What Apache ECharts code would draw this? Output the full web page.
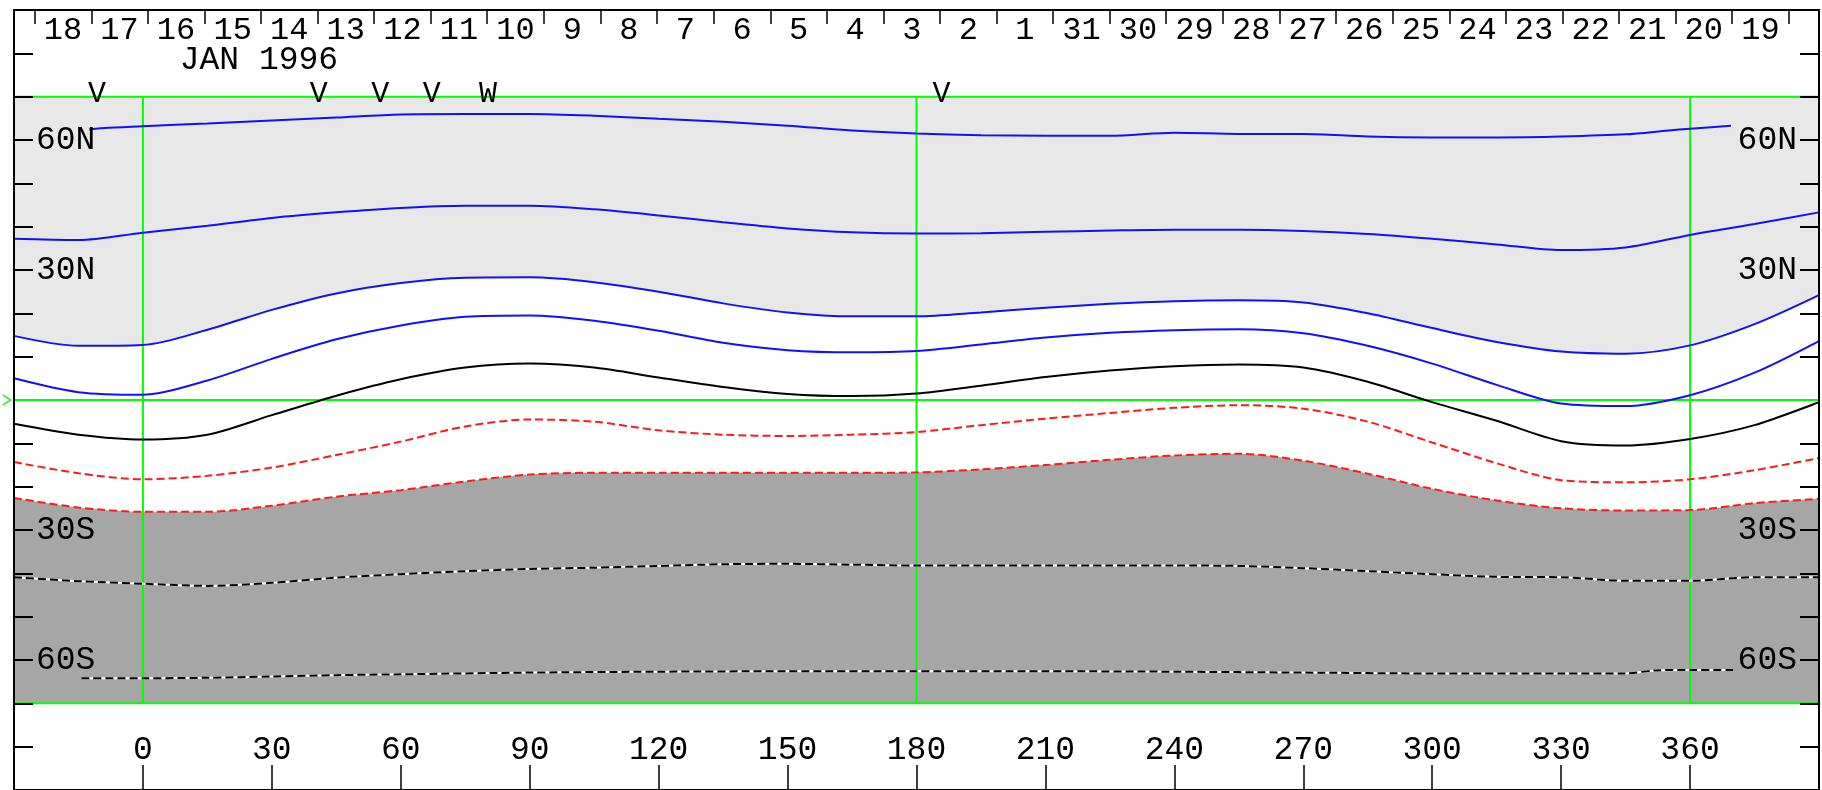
<!DOCTYPE html>
<html><head><meta charset="utf-8">
<script src="https://cdn.jsdelivr.net/npm/echarts@6/dist/echarts.min.js"></script>
<style>html,body{margin:0;padding:0;background:#fff}#c{width:1822px;height:790px}</style>
</head><body><div id="c"></div>
<script>
// Carrington longitude grid (deg) shared by the main contours
const lon = [-30,-15,0,15,30,45,60,75,90,105,120,135,150,165,180,195,210,225,240,255,270,285,300,315,330,345,360,375,390];
const blue2 = [37.2,36.9,38.6,40.2,42.0,43.3,44.3,44.8,44.8,44.0,42.6,41.0,39.6,38.7,38.4,38.5,38.8,39.1,39.3,39.3,39.0,38.3,37.2,35.9,34.6,35.2,38.1,40.6,43.3];
const blue3 = [14.8,12.5,12.7,16.2,20.8,24.6,27.0,28.2,28.3,27.2,25.0,22.3,20.2,19.3,19.3,20.2,21.3,22.2,22.8,23.0,22.5,20.0,16.6,13.4,11.2,10.7,12.6,17.5,24.2];
const blue4 = [5.0,1.8,1.2,4.5,9.5,14.0,17.2,19.2,19.5,18.3,16.0,13.2,11.5,11.0,11.3,12.8,14.4,15.5,16.1,16.3,15.4,12.5,8.4,3.5,-0.8,-1.4,1.1,6.3,13.6];
const neutral = [-5.5,-8.0,-9.1,-8.0,-3.5,1.0,4.8,7.5,8.4,7.5,5.2,3.0,1.4,0.9,1.5,3.3,5.3,6.8,7.8,8.2,7.5,4.2,-0.5,-4.8,-9.5,-10.5,-9.0,-5.8,-0.5];
const redUpper = [-14.3,-16.9,-18.3,-17.5,-15.6,-12.7,-9.6,-6.1,-4.5,-5.0,-7.0,-8.0,-8.3,-8.0,-7.4,-5.8,-4.3,-3.0,-1.8,-1.2,-2.0,-5.0,-9.8,-14.6,-18.5,-19.0,-18.3,-16.2,-13.4];
const redLower = [-22.6,-24.8,-25.8,-25.8,-24.4,-22.3,-20.8,-18.8,-17.2,-16.8,-16.8,-16.8,-16.8,-16.8,-16.7,-16.0,-15.0,-13.8,-12.8,-12.4,-14.0,-17.0,-20.5,-23.2,-25.0,-25.5,-25.4,-23.8,-22.8];
const dashUpper = [-40.9,-41.8,-42.4,-42.9,-42.2,-41.0,-40.2,-39.5,-39.0,-38.7,-38.3,-37.9,-37.8,-38.0,-38.2,-38.2,-38.2,-38.2,-38.2,-38.3,-38.8,-39.5,-40.2,-40.8,-40.9,-41.7,-41.7,-40.9,-40.9];
// partial contours
const blue1Lon = [-12.5,-8,0,15,30,45,60,75,90,105,120,135,150,165,180,195,210,225,240,255,270,285,300,315,330,345,355,360,369.5];
const blue1Lat = [62.4,62.8,63.2,63.8,64.5,65.2,65.9,66.0,66.0,65.6,64.9,64.2,63.3,62.2,61.5,61.1,61.0,61.0,61.7,61.4,61.4,60.8,60.6,60.6,60.8,61.3,62.2,62.6,63.3];
const dashLowLon = [-14.3,0,15,30,45,60,90,120,150,180,210,240,270,300,330,345,352,360,370];
const dashLowLat = [-64.2,-64.2,-64.1,-63.8,-63.5,-63.3,-62.9,-62.7,-62.6,-62.6,-62.6,-62.7,-62.9,-63.1,-63.1,-63.1,-62.4,-62.3,-62.3];
// reference lines
const greenLon = [0,180,360];
const greenLat = [70,0,-70];
// axes
const lonTicks = [-30,0,30,60,90,120,150,180,210,240,270,300,330,360,390];
const lonLabels = ['','0','30','60','90','120','150','180','210','240','270','300','330','360',''];
const latTicks = [-90,-80,-70,-60,-50,-40,-30,-20,-10,10,20,30,40,50,60,70,80,90];
const latLabelVals = [60,30,-30,-60];
const latLabels = ['60N','30N','30S','60S'];
const dayTicks = [-25.2,-12.0,1.1,14.3,27.5,40.6,53.8,67.0,80.1,93.3,106.5,119.6,132.8,146.0,159.1,172.3,185.5,198.6,211.8,225.0,238.1,251.3,264.5,277.6,290.8,304.0,317.1,330.3,343.5,356.6,369.8,383.0];
const dayLabels = ['18','17','16','15','14','13','12','11','10','9','8','7','6','5','4','3','2','1','31','30','29','28','27','26','25','24','23','22','21','20','19'];
const monthLabel = 'JAN 1996';
const monthPos = [27, 78.4];
const markLon = [-10.7, 40.9, 55.2, 67.2, 80.3, 185.8];
const markText = ['V','V','V','V','W','V'];

const FONT = 'Liberation Mono';
const dayMid = dayLabels.map((_, i) => +(((dayTicks[i] + dayTicks[i+1]) / 2).toFixed(2)));
const pair = (xs, ys) => xs.map((x, i) => [x, ys[i]]);
const SM = 0.3;
function lineS(xs, ys, color, width, type, z) {
  return {type:'line', data:pair(xs, ys), smooth:SM, symbol:'none', silent:true,
    lineStyle:{color:color, width:width, type:type || 'solid'}, z:z || 4, animation:false};
}
function areaS(xs, ys, color, origin, z) {
  return {type:'line', data:pair(xs, ys), smooth:SM, symbol:'none', silent:true, animation:false,
    lineStyle:{width:0, opacity:0}, areaStyle:{color:color, opacity:1, origin:origin}, z:z};
}
const series = [];
// light gray: from blue3 contour up to 70N ; dark gray: from lower red contour down to 70S
series.push(areaS(lon, blue3, '#e8e8e8', 'end', 1));
series.push(areaS(lon, redLower, '#a6a6a6', 'start', 1));
// white outside the +-70 band
series.push(areaS([-30, 390], [greenLat[0], greenLat[0]], '#ffffff', 'end', 2));
series.push(areaS([-30, 390], [greenLat[2], greenLat[2]], '#ffffff', 'start', 2));
// green reference lines
greenLon.forEach(x => series.push(lineS([x, x], [greenLat[2], greenLat[0]], '#00ff00', 2, 'solid', 3)));
greenLat.forEach(y => series.push(lineS([-30, 390], [y, y], '#00ff00', 2, 'solid', 3)));
// contours
series.push(lineS(blue1Lon, blue1Lat, '#1010ff', 2));
series.push(lineS(lon, blue2, '#1010ff', 2));
series.push(lineS(lon, blue3, '#1010ff', 2));
series.push(lineS(lon, blue4, '#1010ff', 2));
series.push(lineS(lon, neutral, '#000000', 2));
series.push(lineS(lon, redUpper, '#ff1a1a', 2, [8, 4]));
series.push(lineS(lon, redLower, '#ff1a1a', 2, [8, 4]));
series.push(lineS(lon, dashUpper, '#ffffff', 2));
series.push(lineS(lon, dashUpper, '#000000', 2, [8, 4], 5));
series.push(lineS(dashLowLon, dashLowLat, '#ffffff', 2));
series.push(lineS(dashLowLon, dashLowLat, '#000000', 2, [8, 4], 5));
// texts
series.push({type:'scatter', silent:true, symbolSize:0, z:6, animation:false,
  itemStyle:{opacity:1},
  data:[{value:[monthPos[0], monthPos[1]], name:monthLabel, label:{fontSize:33}}]
    .concat(markLon.map((x, i) => ({value:[x, 70.7], name:markText[i], label:{fontSize:30}}))),
  label:{show:true, position:'inside', formatter:p => p.name, color:'#000', opacity:1, fontFamily:FONT}});
// green equator marker
series.push({type:'scatter', silent:true, clip:false, z:6, animation:false, data:[[-31.7, 0]],
  symbol:'path://M0,0L10,6L0,12', symbolSize:[8, 10],
  itemStyle:{color:'none', borderColor:'#22ee22', borderWidth:1.3, opacity:1}});

const latFmt = v => { const i = latLabelVals.indexOf(v); return i >= 0 ? latLabels[i] : ''; };
const axisTxt = {fontFamily:FONT, fontSize:33, color:'#000'};
const option = {
  animation:false,
  backgroundColor:'#fff',
  grid:{left:14, top:10, width:1818, height:783, containLabel:false},
  xAxis:[
    {type:'value', position:'bottom', min:-30, max:390, interval:30, z:10,
      axisLine:{show:true, onZero:false, lineStyle:{color:'#000', width:2}},
      axisTick:{show:true, inside:true, length:25, lineStyle:{color:'#000', width:1.5}},
      axisLabel:Object.assign({show:true, inside:true, margin:23,
        formatter:v => { const i = lonTicks.indexOf(v); return i >= 0 ? lonLabels[i] : ''; }}, axisTxt),
      splitLine:{show:false}},
    {type:'value', position:'top', min:-30, max:390, z:10,
      axisLine:{show:true, onZero:false, lineStyle:{color:'#000', width:2}},
      axisTick:{show:true, inside:true, length:14, customValues:dayTicks, lineStyle:{color:'#000', width:1.5}},
      axisLabel:Object.assign({show:true, inside:true, margin:5, customValues:dayMid,
        formatter:v => { let b = -1, bd = 1e9; dayMid.forEach((m, i) => { const d = Math.abs(m - v); if (d < bd) { bd = d; b = i; } }); return bd < 1 ? dayLabels[b] : ''; }},
        axisTxt, {fontSize:32}),
      splitLine:{show:false}}
  ],
  yAxis:[
    {type:'value', position:'left', min:-90, max:90, z:10,
      axisLine:{show:true, onZero:false, lineStyle:{color:'#000', width:2}},
      axisTick:{show:true, inside:true, length:19, customValues:latTicks, lineStyle:{color:'#000', width:2}},
      axisLabel:Object.assign({show:true, inside:true, margin:22, customValues:latLabelVals, formatter:latFmt}, axisTxt),
      splitLine:{show:false}},
    {type:'value', position:'right', min:-90, max:90, z:10,
      axisLine:{show:true, onZero:false, lineStyle:{color:'#000', width:2}},
      axisTick:{show:true, inside:true, length:19, customValues:latTicks, lineStyle:{color:'#000', width:2}},
      axisLabel:Object.assign({show:true, inside:true, margin:22, customValues:latLabelVals, formatter:latFmt}, axisTxt),
      splitLine:{show:false}}
  ],
  series:series
};
const chart = echarts.init(document.getElementById('c'), null, {renderer:'canvas', width:1822, height:790});
chart.setOption(option);
</script>
</body></html>
